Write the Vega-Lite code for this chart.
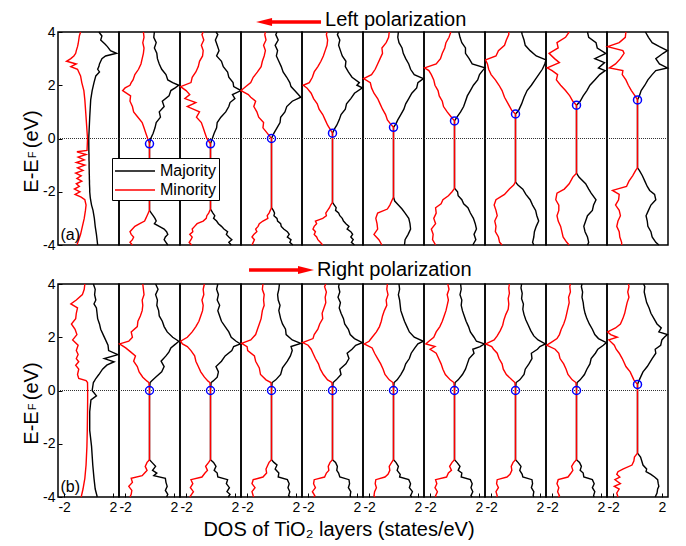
{
  "$schema": "https://vega.github.io/schema/vega-lite/v6.json",
  "padding": {"left": 21, "top": 9, "right": 5, "bottom": 3},
  "background": "white",
  "config": {
    "font": "Liberation Sans",
    "view": {"stroke": "black", "strokeWidth": 1.5},
    "axis": {"domain": false, "grid": false, "labelFont": "Liberation Sans", "labelFontSize": 14, "labelColor": "black", "tickColor": "black", "tickWidth": 1, "titleFont": "Liberation Sans", "titleFontWeight": "normal", "titleColor": "black", "titleFontSize": 20}
  },
  "data": {"values": [
      {"p":"a","l":1,"e":4,"M":0.85,"m":-0.65},{"p":"a","l":1,"e":3.85,"M":1.1,"m":-0.75},{"p":"a","l":1,"e":3.7,"M":1,"m":-0.8},{"p":"a","l":1,"e":3.55,"M":1.35,"m":-0.85},{"p":"a","l":1,"e":3.45,"M":1.55,"m":-0.9},{"p":"a","l":1,"e":3.3,"M":1.8,"m":-1},{"p":"a","l":1,"e":3.2,"M":2.3,"m":-1.05},{"p":"a","l":1,"e":3.1,"M":1.4,"m":-1.2},{"p":"a","l":1,"e":3,"M":1.1,"m":-1.45},{"p":"a","l":1,"e":2.9,"M":1,"m":-1.8},{"p":"a","l":1,"e":2.8,"M":0.9,"m":-1},{"p":"a","l":1,"e":2.7,"M":0.85,"m":-1.45},{"p":"a","l":1,"e":2.6,"M":0.75,"m":-0.9},{"p":"a","l":1,"e":2.5,"M":0.9,"m":-0.8},{"p":"a","l":1,"e":2.35,"M":0.6,"m":-0.65},{"p":"a","l":1,"e":2.1,"M":0.45,"m":-0.55},{"p":"a","l":1,"e":1.8,"M":0.3,"m":-0.38},{"p":"a","l":1,"e":1.45,"M":0.18,"m":-0.3},{"p":"a","l":1,"e":0.8,"M":0.1,"m":-0.2},{"p":"a","l":1,"e":0,"M":0.02,"m":-0.08},{"p":"a","l":1,"e":-0.45,"M":0.03,"m":-0.12},{"p":"a","l":1,"e":-0.5,"M":0.03,"m":-0.95},{"p":"a","l":1,"e":-0.6,"M":0.04,"m":-0.2},{"p":"a","l":1,"e":-0.7,"M":0.04,"m":-0.85},{"p":"a","l":1,"e":-0.8,"M":0.04,"m":-0.35},{"p":"a","l":1,"e":-0.9,"M":0.05,"m":-1},{"p":"a","l":1,"e":-1,"M":0.05,"m":-0.3},{"p":"a","l":1,"e":-1.1,"M":0.05,"m":-0.9},{"p":"a","l":1,"e":-1.2,"M":0.06,"m":-0.45},{"p":"a","l":1,"e":-1.3,"M":0.06,"m":-1.05},{"p":"a","l":1,"e":-1.4,"M":0.07,"m":-0.6},{"p":"a","l":1,"e":-1.5,"M":0.07,"m":-0.95},{"p":"a","l":1,"e":-1.6,"M":0.08,"m":-0.55},{"p":"a","l":1,"e":-1.7,"M":0.08,"m":-1},{"p":"a","l":1,"e":-1.8,"M":0.09,"m":-0.75},{"p":"a","l":1,"e":-1.9,"M":0.1,"m":-1.15},{"p":"a","l":1,"e":-2,"M":0.1,"m":-0.7},{"p":"a","l":1,"e":-2.1,"M":0.12,"m":-1.1},{"p":"a","l":1,"e":-2.2,"M":0.14,"m":-0.6},{"p":"a","l":1,"e":-2.3,"M":0.17,"m":-0.3},{"p":"a","l":1,"e":-2.5,"M":0.25,"m":-0.2},{"p":"a","l":1,"e":-2.7,"M":0.37,"m":-0.25},{"p":"a","l":1,"e":-3,"M":0.48,"m":-0.35},{"p":"a","l":1,"e":-3.3,"M":0.55,"m":-0.5},{"p":"a","l":1,"e":-3.6,"M":0.65,"m":-0.65},{"p":"a","l":1,"e":-3.8,"M":0.7,"m":-0.8},{"p":"a","l":1,"e":-4,"M":0.75,"m":-0.95},
      {"p":"a","l":2,"e":-0.2,"M":0,"m":0},{"p":"a","l":2,"e":0,"M":0.1,"m":-0.15},{"p":"a","l":2,"e":0.2,"M":0.3,"m":-0.3},{"p":"a","l":2,"e":0.4,"M":0.45,"m":-0.45},{"p":"a","l":2,"e":0.6,"M":0.55,"m":-0.6},{"p":"a","l":2,"e":0.8,"M":0.9,"m":-0.95},{"p":"a","l":2,"e":1,"M":0.8,"m":-1.3},{"p":"a","l":2,"e":1.2,"M":1.2,"m":-1.4},{"p":"a","l":2,"e":1.4,"M":1.05,"m":-1.6},{"p":"a","l":2,"e":1.6,"M":1.6,"m":-1.55},{"p":"a","l":2,"e":1.8,"M":1.75,"m":-2.2},{"p":"a","l":2,"e":1.9,"M":2.1,"m":-2},{"p":"a","l":2,"e":2,"M":2.4,"m":-1.6},{"p":"a","l":2,"e":2.1,"M":1.9,"m":-1.5},{"p":"a","l":2,"e":2.2,"M":1.5,"m":-1.35},{"p":"a","l":2,"e":2.4,"M":1.35,"m":-1.2},{"p":"a","l":2,"e":2.6,"M":1,"m":-0.9},{"p":"a","l":2,"e":2.8,"M":0.8,"m":-0.7},{"p":"a","l":2,"e":3,"M":0.65,"m":-0.6},{"p":"a","l":2,"e":3.2,"M":0.6,"m":-0.5},{"p":"a","l":2,"e":3.4,"M":0.4,"m":-0.45},{"p":"a","l":2,"e":3.6,"M":0.55,"m":-0.55},{"p":"a","l":2,"e":3.8,"M":0.35,"m":-0.45},{"p":"a","l":2,"e":4,"M":0.4,"m":-0.5},
      {"p":"a","l":2,"e":-2.7,"M":0,"m":0},{"p":"a","l":2,"e":-2.8,"M":0.15,"m":-0.1},{"p":"a","l":2,"e":-2.9,"M":0.3,"m":-0.2},{"p":"a","l":2,"e":-3,"M":0.45,"m":-0.3},{"p":"a","l":2,"e":-3.1,"M":0.55,"m":-0.4},{"p":"a","l":2,"e":-3.2,"M":0.4,"m":-0.8},{"p":"a","l":2,"e":-3.3,"M":0.8,"m":-1.2},{"p":"a","l":2,"e":-3.4,"M":1.2,"m":-1.4},{"p":"a","l":2,"e":-3.5,"M":1.4,"m":-1.6},{"p":"a","l":2,"e":-3.6,"M":1.5,"m":-1.5},{"p":"a","l":2,"e":-3.7,"M":1.3,"m":-1.3},{"p":"a","l":2,"e":-3.8,"M":1.2,"m":-1.4},{"p":"a","l":2,"e":-3.9,"M":1.35,"m":-1.6},{"p":"a","l":2,"e":-4,"M":1.5,"m":-1.4},
      {"p":"a","l":3,"e":-0.2,"M":0,"m":0},{"p":"a","l":3,"e":0,"M":0.15,"m":-0.3},{"p":"a","l":3,"e":0.2,"M":0.3,"m":-0.45},{"p":"a","l":3,"e":0.4,"M":0.5,"m":-0.6},{"p":"a","l":3,"e":0.6,"M":0.55,"m":-0.75},{"p":"a","l":3,"e":0.8,"M":0.85,"m":-1.15},{"p":"a","l":3,"e":1,"M":1.25,"m":-0.9},{"p":"a","l":3,"e":1.2,"M":1.5,"m":-1.9},{"p":"a","l":3,"e":1.35,"M":1.6,"m":-1.2},{"p":"a","l":3,"e":1.5,"M":2,"m":-2.1},{"p":"a","l":3,"e":1.65,"M":1.8,"m":-1.7},{"p":"a","l":3,"e":1.8,"M":2.5,"m":-2},{"p":"a","l":3,"e":1.95,"M":1.9,"m":-2.45},{"p":"a","l":3,"e":2.1,"M":1.85,"m":-1.6},{"p":"a","l":3,"e":2.3,"M":1.5,"m":-1.5},{"p":"a","l":3,"e":2.5,"M":1.4,"m":-1.2},{"p":"a","l":3,"e":2.7,"M":1.05,"m":-1},{"p":"a","l":3,"e":2.9,"M":0.9,"m":-0.9},{"p":"a","l":3,"e":3.1,"M":0.5,"m":-0.65},{"p":"a","l":3,"e":3.3,"M":0.7,"m":-0.6},{"p":"a","l":3,"e":3.5,"M":0.55,"m":-0.75},{"p":"a","l":3,"e":3.7,"M":0.4,"m":-0.55},{"p":"a","l":3,"e":3.9,"M":0.6,"m":-0.7},{"p":"a","l":3,"e":4,"M":0.45,"m":-0.6},
      {"p":"a","l":3,"e":-2.65,"M":0,"m":0},{"p":"a","l":3,"e":-2.8,"M":0.2,"m":-0.15},{"p":"a","l":3,"e":-2.9,"M":0.35,"m":-0.3},{"p":"a","l":3,"e":-3,"M":0.25,"m":-0.35},{"p":"a","l":3,"e":-3.1,"M":0.5,"m":-0.6},{"p":"a","l":3,"e":-3.2,"M":0.65,"m":-1.1},{"p":"a","l":3,"e":-3.3,"M":0.9,"m":-1.3},{"p":"a","l":3,"e":-3.4,"M":1.1,"m":-1.5},{"p":"a","l":3,"e":-3.5,"M":1.4,"m":-1.45},{"p":"a","l":3,"e":-3.6,"M":1.3,"m":-1.7},{"p":"a","l":3,"e":-3.7,"M":1.5,"m":-1.5},{"p":"a","l":3,"e":-3.8,"M":1.75,"m":-1.6},{"p":"a","l":3,"e":-3.9,"M":1.5,"m":-1.75},{"p":"a","l":3,"e":-4,"M":1.7,"m":-1.55},
      {"p":"a","l":4,"e":0,"M":0,"m":0},{"p":"a","l":4,"e":0.2,"M":0.2,"m":-0.35},{"p":"a","l":4,"e":0.4,"M":0.45,"m":-0.7},{"p":"a","l":4,"e":0.6,"M":0.7,"m":-0.65},{"p":"a","l":4,"e":0.8,"M":0.75,"m":-1.05},{"p":"a","l":4,"e":1,"M":1.1,"m":-1.2},{"p":"a","l":4,"e":1.2,"M":1.25,"m":-1.45},{"p":"a","l":4,"e":1.4,"M":1.7,"m":-1.3},{"p":"a","l":4,"e":1.55,"M":2.4,"m":-1.7},{"p":"a","l":4,"e":1.65,"M":2.2,"m":-1.9},{"p":"a","l":4,"e":1.8,"M":1.9,"m":-2.5},{"p":"a","l":4,"e":1.95,"M":1.6,"m":-2.1},{"p":"a","l":4,"e":2.1,"M":1.5,"m":-1.7},{"p":"a","l":4,"e":2.3,"M":1.25,"m":-1.5},{"p":"a","l":4,"e":2.5,"M":0.95,"m":-1.15},{"p":"a","l":4,"e":2.7,"M":0.8,"m":-0.85},{"p":"a","l":4,"e":2.9,"M":0.6,"m":-0.75},{"p":"a","l":4,"e":3.1,"M":0.4,"m":-0.6},{"p":"a","l":4,"e":3.3,"M":0.5,"m":-0.5},{"p":"a","l":4,"e":3.5,"M":0.3,"m":-0.65},{"p":"a","l":4,"e":3.7,"M":0.55,"m":-0.45},{"p":"a","l":4,"e":3.9,"M":0.35,"m":-0.55},{"p":"a","l":4,"e":4,"M":0.45,"m":-0.5},
      {"p":"a","l":4,"e":-2.6,"M":0,"m":0},{"p":"a","l":4,"e":-2.7,"M":0.15,"m":-0.1},{"p":"a","l":4,"e":-2.8,"M":0.25,"m":-0.2},{"p":"a","l":4,"e":-2.9,"M":0.2,"m":-0.35},{"p":"a","l":4,"e":-3,"M":0.45,"m":-0.3},{"p":"a","l":4,"e":-3.1,"M":0.5,"m":-0.7},{"p":"a","l":4,"e":-3.2,"M":0.75,"m":-1},{"p":"a","l":4,"e":-3.3,"M":0.8,"m":-1.1},{"p":"a","l":4,"e":-3.4,"M":1,"m":-1.3},{"p":"a","l":4,"e":-3.5,"M":1.3,"m":-1.2},{"p":"a","l":4,"e":-3.6,"M":1.45,"m":-1.45},{"p":"a","l":4,"e":-3.7,"M":1.3,"m":-1.6},{"p":"a","l":4,"e":-3.8,"M":1.6,"m":-1.4},{"p":"a","l":4,"e":-3.9,"M":1.5,"m":-1.5},{"p":"a","l":4,"e":-4,"M":1.75,"m":-1.6},
      {"p":"a","l":5,"e":0.2,"M":0,"m":0},{"p":"a","l":5,"e":0.35,"M":0.15,"m":-0.2},{"p":"a","l":5,"e":0.5,"M":0.35,"m":-0.4},{"p":"a","l":5,"e":0.7,"M":0.55,"m":-0.6},{"p":"a","l":5,"e":0.9,"M":0.7,"m":-0.8},{"p":"a","l":5,"e":1.1,"M":1.05,"m":-1.1},{"p":"a","l":5,"e":1.3,"M":1.15,"m":-1.25},{"p":"a","l":5,"e":1.5,"M":1.5,"m":-1.55},{"p":"a","l":5,"e":1.7,"M":1.8,"m":-1.75},{"p":"a","l":5,"e":1.9,"M":2.45,"m":-2.1},{"p":"a","l":5,"e":2,"M":2,"m":-2.4},{"p":"a","l":5,"e":2.1,"M":2.2,"m":-1.9},{"p":"a","l":5,"e":2.3,"M":1.6,"m":-1.65},{"p":"a","l":5,"e":2.5,"M":1.3,"m":-1.5},{"p":"a","l":5,"e":2.7,"M":1.05,"m":-1.2},{"p":"a","l":5,"e":2.9,"M":1.1,"m":-0.95},{"p":"a","l":5,"e":3.1,"M":0.8,"m":-0.75},{"p":"a","l":5,"e":3.3,"M":0.65,"m":-0.6},{"p":"a","l":5,"e":3.5,"M":0.5,"m":-0.45},{"p":"a","l":5,"e":3.7,"M":0.6,"m":-0.4},{"p":"a","l":5,"e":3.9,"M":0.4,"m":-0.5},{"p":"a","l":5,"e":4,"M":0.5,"m":-0.45},
      {"p":"a","l":5,"e":-2.4,"M":0,"m":0},{"p":"a","l":5,"e":-2.5,"M":0.15,"m":-0.15},{"p":"a","l":5,"e":-2.6,"M":0.3,"m":-0.25},{"p":"a","l":5,"e":-2.7,"M":0.25,"m":-0.4},{"p":"a","l":5,"e":-2.8,"M":0.5,"m":-0.55},{"p":"a","l":5,"e":-2.9,"M":0.6,"m":-0.5},{"p":"a","l":5,"e":-3,"M":0.8,"m":-0.8},{"p":"a","l":5,"e":-3.1,"M":0.9,"m":-1.4},{"p":"a","l":5,"e":-3.2,"M":1.1,"m":-1.3},{"p":"a","l":5,"e":-3.3,"M":1.35,"m":-1.5},{"p":"a","l":5,"e":-3.4,"M":1.2,"m":-1.6},{"p":"a","l":5,"e":-3.5,"M":1.5,"m":-1.4},{"p":"a","l":5,"e":-3.6,"M":1.65,"m":-1.5},{"p":"a","l":5,"e":-3.7,"M":1.5,"m":-1.3},{"p":"a","l":5,"e":-3.8,"M":1.7,"m":-1.2},{"p":"a","l":5,"e":-3.9,"M":1.55,"m":-1},{"p":"a","l":5,"e":-4,"M":1.8,"m":-0.8},
      {"p":"a","l":6,"e":0.42,"M":0,"m":0},{"p":"a","l":6,"e":0.55,"M":0.2,"m":-0.25},{"p":"a","l":6,"e":0.7,"M":0.35,"m":-0.5},{"p":"a","l":6,"e":0.9,"M":0.6,"m":-0.65},{"p":"a","l":6,"e":1.1,"M":0.85,"m":-0.9},{"p":"a","l":6,"e":1.3,"M":1,"m":-1.1},{"p":"a","l":6,"e":1.5,"M":1.25,"m":-1.3},{"p":"a","l":6,"e":1.7,"M":1.5,"m":-1.6},{"p":"a","l":6,"e":1.9,"M":1.9,"m":-1.8},{"p":"a","l":6,"e":2.1,"M":2,"m":-1.9},{"p":"a","l":6,"e":2.25,"M":2.45,"m":-2.45},{"p":"a","l":6,"e":2.4,"M":1.7,"m":-1.8},{"p":"a","l":6,"e":2.6,"M":1.4,"m":-1.5},{"p":"a","l":6,"e":2.8,"M":1.25,"m":-1.3},{"p":"a","l":6,"e":3,"M":1,"m":-1.1},{"p":"a","l":6,"e":3.2,"M":0.8,"m":-0.9},{"p":"a","l":6,"e":3.4,"M":0.7,"m":-0.95},{"p":"a","l":6,"e":3.6,"M":0.45,"m":-0.6},{"p":"a","l":6,"e":3.8,"M":0.35,"m":-0.4},{"p":"a","l":6,"e":4,"M":0.4,"m":-0.35},
      {"p":"a","l":6,"e":-2.2,"M":0,"m":0},{"p":"a","l":6,"e":-2.35,"M":0.1,"m":-0.15},{"p":"a","l":6,"e":-2.5,"M":0.4,"m":-0.3},{"p":"a","l":6,"e":-2.65,"M":0.7,"m":-0.5},{"p":"a","l":6,"e":-2.8,"M":0.95,"m":-1.3},{"p":"a","l":6,"e":-3,"M":1.25,"m":-1.45},{"p":"a","l":6,"e":-3.2,"M":1.35,"m":-1.35},{"p":"a","l":6,"e":-3.4,"M":1.4,"m":-1.3},{"p":"a","l":6,"e":-3.6,"M":1.2,"m":-1.6},{"p":"a","l":6,"e":-3.8,"M":0.95,"m":-1.2},{"p":"a","l":6,"e":-4,"M":0.9,"m":-0.95},
      {"p":"a","l":7,"e":0.66,"M":0,"m":0},{"p":"a","l":7,"e":0.8,"M":0.2,"m":-0.25},{"p":"a","l":7,"e":1,"M":0.5,"m":-0.6},{"p":"a","l":7,"e":1.2,"M":0.75,"m":-0.9},{"p":"a","l":7,"e":1.4,"M":0.9,"m":-1},{"p":"a","l":7,"e":1.6,"M":1.05,"m":-1.25},{"p":"a","l":7,"e":1.8,"M":1.3,"m":-1.35},{"p":"a","l":7,"e":2,"M":1.55,"m":-1.6},{"p":"a","l":7,"e":2.2,"M":1.9,"m":-1.7},{"p":"a","l":7,"e":2.4,"M":2.05,"m":-1.9},{"p":"a","l":7,"e":2.55,"M":2.3,"m":-2.1},{"p":"a","l":7,"e":2.65,"M":2.5,"m":-2.45},{"p":"a","l":7,"e":2.8,"M":1.45,"m":-1.5},{"p":"a","l":7,"e":3,"M":1.2,"m":-1.15},{"p":"a","l":7,"e":3.2,"M":0.9,"m":-1},{"p":"a","l":7,"e":3.4,"M":0.9,"m":-0.8},{"p":"a","l":7,"e":3.6,"M":0.6,"m":-0.7},{"p":"a","l":7,"e":3.8,"M":0.45,"m":-0.45},{"p":"a","l":7,"e":4,"M":0.35,"m":-0.3},
      {"p":"a","l":7,"e":-1.87,"M":0,"m":0},{"p":"a","l":7,"e":-2,"M":0.25,"m":-0.2},{"p":"a","l":7,"e":-2.15,"M":0.3,"m":-0.5},{"p":"a","l":7,"e":-2.3,"M":0.6,"m":-0.95},{"p":"a","l":7,"e":-2.45,"M":0.75,"m":-1.1},{"p":"a","l":7,"e":-2.6,"M":1.1,"m":-1.55},{"p":"a","l":7,"e":-2.8,"M":1.3,"m":-1.5},{"p":"a","l":7,"e":-3,"M":1.55,"m":-1.7},{"p":"a","l":7,"e":-3.2,"M":1.7,"m":-1.55},{"p":"a","l":7,"e":-3.4,"M":1.8,"m":-1.9},{"p":"a","l":7,"e":-3.6,"M":1.6,"m":-1.75},{"p":"a","l":7,"e":-3.8,"M":1.75,"m":-1.8},{"p":"a","l":7,"e":-4,"M":1.5,"m":-1.55},
      {"p":"a","l":8,"e":0.92,"M":0,"m":0},{"p":"a","l":8,"e":1.05,"M":0.25,"m":-0.3},{"p":"a","l":8,"e":1.3,"M":0.5,"m":-0.6},{"p":"a","l":8,"e":1.55,"M":0.7,"m":-0.9},{"p":"a","l":8,"e":1.8,"M":0.95,"m":-1.1},{"p":"a","l":8,"e":2,"M":1.3,"m":-1.35},{"p":"a","l":8,"e":2.2,"M":1.6,"m":-1.65},{"p":"a","l":8,"e":2.4,"M":1.9,"m":-2},{"p":"a","l":8,"e":2.6,"M":2.2,"m":-2.2},{"p":"a","l":8,"e":2.8,"M":2.4,"m":-2.3},{"p":"a","l":8,"e":2.95,"M":2.5,"m":-2.45},{"p":"a","l":8,"e":3.1,"M":1.7,"m":-1.6},{"p":"a","l":8,"e":3.3,"M":1.2,"m":-1.4},{"p":"a","l":8,"e":3.5,"M":0.8,"m":-0.9},{"p":"a","l":8,"e":3.7,"M":0.7,"m":-0.75},{"p":"a","l":8,"e":3.9,"M":0.55,"m":-0.55},{"p":"a","l":8,"e":4,"M":0.5,"m":-0.55},
      {"p":"a","l":8,"e":-1.63,"M":0,"m":0},{"p":"a","l":8,"e":-1.75,"M":0.2,"m":-0.15},{"p":"a","l":8,"e":-1.9,"M":0.6,"m":-0.5},{"p":"a","l":8,"e":-2.1,"M":0.85,"m":-0.9},{"p":"a","l":8,"e":-2.3,"M":1.2,"m":-1.6},{"p":"a","l":8,"e":-2.5,"M":1.4,"m":-1.75},{"p":"a","l":8,"e":-2.7,"M":1.65,"m":-1.6},{"p":"a","l":8,"e":-2.9,"M":1.75,"m":-1.5},{"p":"a","l":8,"e":-3.1,"M":1.9,"m":-1.7},{"p":"a","l":8,"e":-3.3,"M":1.7,"m":-1.6},{"p":"a","l":8,"e":-3.5,"M":1.55,"m":-1.65},{"p":"a","l":8,"e":-3.7,"M":1.5,"m":-1.4},{"p":"a","l":8,"e":-3.9,"M":1.4,"m":-1.3},{"p":"a","l":8,"e":-4,"M":1.5,"m":-1.1},
      {"p":"a","l":9,"e":1.25,"M":0,"m":0},{"p":"a","l":9,"e":1.4,"M":0.3,"m":-0.3},{"p":"a","l":9,"e":1.6,"M":0.55,"m":-0.55},{"p":"a","l":9,"e":1.8,"M":0.85,"m":-0.9},{"p":"a","l":9,"e":2,"M":1.1,"m":-1.3},{"p":"a","l":9,"e":2.2,"M":1.5,"m":-1.65},{"p":"a","l":9,"e":2.4,"M":1.9,"m":-1.55},{"p":"a","l":9,"e":2.55,"M":2.35,"m":-2},{"p":"a","l":9,"e":2.65,"M":1.8,"m":-2.4},{"p":"a","l":9,"e":2.85,"M":2.3,"m":-1.4},{"p":"a","l":9,"e":3,"M":1.5,"m":-1.8},{"p":"a","l":9,"e":3.2,"M":2.4,"m":-2.25},{"p":"a","l":9,"e":3.4,"M":1.7,"m":-1.5},{"p":"a","l":9,"e":3.6,"M":1.6,"m":-1.6},{"p":"a","l":9,"e":3.8,"M":1,"m":-0.9},{"p":"a","l":9,"e":4,"M":0.9,"m":-0.6},
      {"p":"a","l":9,"e":-1.3,"M":0,"m":0},{"p":"a","l":9,"e":-1.45,"M":0.2,"m":-0.3},{"p":"a","l":9,"e":-1.7,"M":0.75,"m":-0.6},{"p":"a","l":9,"e":-1.9,"M":1,"m":-1},{"p":"a","l":9,"e":-2.05,"M":1.2,"m":-1.6},{"p":"a","l":9,"e":-2.3,"M":1.6,"m":-1.7},{"p":"a","l":9,"e":-2.5,"M":1.4,"m":-1.45},{"p":"a","l":9,"e":-2.7,"M":1.3,"m":-1.45},{"p":"a","l":9,"e":-2.9,"M":0.9,"m":-1.6},{"p":"a","l":9,"e":-3.1,"M":0.75,"m":-1.5},{"p":"a","l":9,"e":-3.3,"M":0.6,"m":-1.3},{"p":"a","l":9,"e":-3.5,"M":0.7,"m":-1.2},{"p":"a","l":9,"e":-3.7,"M":0.9,"m":-1.1},{"p":"a","l":9,"e":-3.9,"M":1,"m":-0.8},{"p":"a","l":9,"e":-4,"M":0.9,"m":-0.6},
      {"p":"a","l":10,"e":1.45,"M":0,"m":0},{"p":"a","l":10,"e":1.6,"M":0.15,"m":-0.2},{"p":"a","l":10,"e":1.8,"M":0.3,"m":-0.5},{"p":"a","l":10,"e":2,"M":0.6,"m":-0.75},{"p":"a","l":10,"e":2.2,"M":0.85,"m":-0.95},{"p":"a","l":10,"e":2.4,"M":1.2,"m":-1.25},{"p":"a","l":10,"e":2.55,"M":1.5,"m":-1.2},{"p":"a","l":10,"e":2.65,"M":2.45,"m":-2.3},{"p":"a","l":10,"e":2.8,"M":1.8,"m":-1.8},{"p":"a","l":10,"e":3,"M":1.5,"m":-1.4},{"p":"a","l":10,"e":3.2,"M":2.1,"m":-1.1},{"p":"a","l":10,"e":3.3,"M":2.45,"m":-1.2},{"p":"a","l":10,"e":3.45,"M":1.8,"m":-2.45},{"p":"a","l":10,"e":3.6,"M":1.2,"m":-1.5},{"p":"a","l":10,"e":3.8,"M":0.9,"m":-1},{"p":"a","l":10,"e":4,"M":0.65,"m":-0.95},
      {"p":"a","l":10,"e":-1.1,"M":0,"m":0},{"p":"a","l":10,"e":-1.2,"M":0.15,"m":-0.15},{"p":"a","l":10,"e":-1.4,"M":0.4,"m":-0.4},{"p":"a","l":10,"e":-1.6,"M":0.6,"m":-0.7},{"p":"a","l":10,"e":-1.8,"M":0.8,"m":-0.9},{"p":"a","l":10,"e":-1.95,"M":1,"m":-2.05},{"p":"a","l":10,"e":-2.1,"M":1.4,"m":-1.5},{"p":"a","l":10,"e":-2.3,"M":1.5,"m":-1.55},{"p":"a","l":10,"e":-2.5,"M":1.1,"m":-1.8},{"p":"a","l":10,"e":-2.7,"M":0.9,"m":-1.5},{"p":"a","l":10,"e":-2.9,"M":0.7,"m":-1.4},{"p":"a","l":10,"e":-3.1,"M":0.8,"m":-1.6},{"p":"a","l":10,"e":-3.3,"M":0.85,"m":-1.7},{"p":"a","l":10,"e":-3.5,"M":1.1,"m":-1.5},{"p":"a","l":10,"e":-3.7,"M":1.2,"m":-1.45},{"p":"a","l":10,"e":-3.9,"M":1.5,"m":-1.3},{"p":"a","l":10,"e":-4,"M":1.75,"m":-1.3},
      {"p":"a","l":1,"t":"(a)"},{"p":"a","l":2,"c":-0.2},{"p":"a","l":3,"c":-0.2},{"p":"a","l":4,"c":0},{"p":"a","l":5,"c":0.2},{"p":"a","l":6,"c":0.42},{"p":"a","l":7,"c":0.66},{"p":"a","l":8,"c":0.92},{"p":"a","l":9,"c":1.25},{"p":"a","l":10,"c":1.45},
      {"p":"a","l":5,"h":"Left polarization"},
      {"p":"b","l":1,"e":4,"M":0.4,"m":-0.3},{"p":"b","l":1,"e":3.8,"M":0.55,"m":-0.35},{"p":"b","l":1,"e":3.6,"M":0.5,"m":-0.5},{"p":"b","l":1,"e":3.4,"M":0.6,"m":-1},{"p":"b","l":1,"e":3.25,"M":0.45,"m":-1.45},{"p":"b","l":1,"e":3.1,"M":0.65,"m":-0.9},{"p":"b","l":1,"e":2.9,"M":0.7,"m":-1},{"p":"b","l":1,"e":2.7,"M":0.75,"m":-1.05},{"p":"b","l":1,"e":2.5,"M":0.9,"m":-1.4},{"p":"b","l":1,"e":2.3,"M":1,"m":-1.1},{"p":"b","l":1,"e":2.1,"M":1.2,"m":-0.95},{"p":"b","l":1,"e":1.9,"M":1.4,"m":-1.3},{"p":"b","l":1,"e":1.7,"M":1.6,"m":-0.85},{"p":"b","l":1,"e":1.5,"M":1.65,"m":-1},{"p":"b","l":1,"e":1.35,"M":2.4,"m":-0.85},{"p":"b","l":1,"e":1.2,"M":1.3,"m":-1},{"p":"b","l":1,"e":1.08,"M":2.1,"m":-0.8},{"p":"b","l":1,"e":0.95,"M":1.5,"m":-1.05},{"p":"b","l":1,"e":0.8,"M":1.15,"m":-0.8},{"p":"b","l":1,"e":0.6,"M":0.85,"m":-0.9},{"p":"b","l":1,"e":0.45,"M":0.6,"m":-0.8},{"p":"b","l":1,"e":0.37,"M":0.5,"m":-0.2},{"p":"b","l":1,"e":0.3,"M":0.4,"m":-0.08},{"p":"b","l":1,"e":0,"M":0.3,"m":-0.07},{"p":"b","l":1,"e":-0.2,"M":0.65,"m":-0.07},{"p":"b","l":1,"e":-0.35,"M":0.2,"m":-0.07},{"p":"b","l":1,"e":-0.8,"M":0.1,"m":-0.08},{"p":"b","l":1,"e":-1.5,"M":0.1,"m":-0.1},{"p":"b","l":1,"e":-2.1,"M":0.25,"m":-0.13},{"p":"b","l":1,"e":-2.8,"M":0.35,"m":-0.2},{"p":"b","l":1,"e":-3.3,"M":0.45,"m":-0.3},{"p":"b","l":1,"e":-3.7,"M":0.55,"m":-0.45},{"p":"b","l":1,"e":-4,"M":0.72,"m":-0.6},
      {"p":"b","l":2,"e":0,"M":0,"m":0},{"p":"b","l":2,"e":0.3,"M":0.05,"m":-0.05},{"p":"b","l":2,"e":0.35,"M":0.15,"m":-0.2},{"p":"b","l":2,"e":0.5,"M":0.5,"m":-0.55},{"p":"b","l":2,"e":0.7,"M":1,"m":-0.85},{"p":"b","l":2,"e":0.9,"M":1.2,"m":-1},{"p":"b","l":2,"e":1.1,"M":0.95,"m":-1.3},{"p":"b","l":2,"e":1.3,"M":1.35,"m":-1.15},{"p":"b","l":2,"e":1.45,"M":1.6,"m":-1.55},{"p":"b","l":2,"e":1.6,"M":1.75,"m":-1.95},{"p":"b","l":2,"e":1.75,"M":2.15,"m":-2.45},{"p":"b","l":2,"e":1.85,"M":2.4,"m":-1.7},{"p":"b","l":2,"e":2,"M":1.9,"m":-1.4},{"p":"b","l":2,"e":2.2,"M":1.45,"m":-1.5},{"p":"b","l":2,"e":2.4,"M":1.2,"m":-1},{"p":"b","l":2,"e":2.6,"M":1.05,"m":-0.95},{"p":"b","l":2,"e":2.8,"M":0.8,"m":-0.75},{"p":"b","l":2,"e":3,"M":0.75,"m":-0.6},{"p":"b","l":2,"e":3.2,"M":0.6,"m":-0.55},{"p":"b","l":2,"e":3.4,"M":0.65,"m":-0.6},{"p":"b","l":2,"e":3.6,"M":0.5,"m":-0.45},{"p":"b","l":2,"e":3.8,"M":0.7,"m":-0.5},{"p":"b","l":2,"e":4,"M":0.5,"m":-0.55},
      {"p":"b","l":2,"e":-2.6,"M":0,"m":0},{"p":"b","l":2,"e":-2.7,"M":0.2,"m":-0.2},{"p":"b","l":2,"e":-2.85,"M":0.5,"m":-0.35},{"p":"b","l":2,"e":-3,"M":0.25,"m":-0.2},{"p":"b","l":2,"e":-3.1,"M":0.6,"m":-0.4},{"p":"b","l":2,"e":-3.2,"M":0.35,"m":-0.6},{"p":"b","l":2,"e":-3.3,"M":1.3,"m":-1.5},{"p":"b","l":2,"e":-3.45,"M":1.35,"m":-1.4},{"p":"b","l":2,"e":-3.6,"M":1.45,"m":-1.7},{"p":"b","l":2,"e":-3.75,"M":1.3,"m":-1.45},{"p":"b","l":2,"e":-3.9,"M":1.5,"m":-1.5},{"p":"b","l":2,"e":-4,"M":1.4,"m":-1.6},
      {"p":"b","l":3,"e":0,"M":0,"m":0},{"p":"b","l":3,"e":0.3,"M":0.05,"m":-0.05},{"p":"b","l":3,"e":0.35,"M":0.2,"m":-0.2},{"p":"b","l":3,"e":0.5,"M":0.55,"m":-0.5},{"p":"b","l":3,"e":0.7,"M":0.65,"m":-0.8},{"p":"b","l":3,"e":0.9,"M":0.45,"m":-1},{"p":"b","l":3,"e":1.1,"M":0.9,"m":-1.2},{"p":"b","l":3,"e":1.3,"M":1.2,"m":-1.3},{"p":"b","l":3,"e":1.5,"M":1.75,"m":-1.6},{"p":"b","l":3,"e":1.65,"M":1.9,"m":-1.9},{"p":"b","l":3,"e":1.75,"M":2.45,"m":-2.3},{"p":"b","l":3,"e":1.85,"M":2.1,"m":-2.45},{"p":"b","l":3,"e":2,"M":1.7,"m":-1.9},{"p":"b","l":3,"e":2.2,"M":1.5,"m":-1.5},{"p":"b","l":3,"e":2.4,"M":1.2,"m":-1.2},{"p":"b","l":3,"e":2.6,"M":0.9,"m":-0.95},{"p":"b","l":3,"e":2.8,"M":0.75,"m":-0.8},{"p":"b","l":3,"e":3,"M":0.6,"m":-0.65},{"p":"b","l":3,"e":3.2,"M":0.75,"m":-0.6},{"p":"b","l":3,"e":3.4,"M":0.55,"m":-0.7},{"p":"b","l":3,"e":3.6,"M":0.65,"m":-0.55},{"p":"b","l":3,"e":3.8,"M":0.5,"m":-0.6},{"p":"b","l":3,"e":4,"M":0.6,"m":-0.5},
      {"p":"b","l":3,"e":-2.6,"M":0,"m":0},{"p":"b","l":3,"e":-2.7,"M":0.25,"m":-0.15},{"p":"b","l":3,"e":-2.85,"M":0.45,"m":-0.4},{"p":"b","l":3,"e":-3,"M":0.3,"m":-0.25},{"p":"b","l":3,"e":-3.1,"M":0.55,"m":-0.45},{"p":"b","l":3,"e":-3.25,"M":0.6,"m":-0.7},{"p":"b","l":3,"e":-3.35,"M":1.4,"m":-1.6},{"p":"b","l":3,"e":-3.5,"M":1.3,"m":-1.45},{"p":"b","l":3,"e":-3.65,"M":1.55,"m":-1.65},{"p":"b","l":3,"e":-3.8,"M":1.35,"m":-1.4},{"p":"b","l":3,"e":-3.9,"M":1.6,"m":-1.55},{"p":"b","l":3,"e":-4,"M":1.45,"m":-1.7},
      {"p":"b","l":4,"e":0,"M":0,"m":0},{"p":"b","l":4,"e":0.3,"M":0.05,"m":-0.05},{"p":"b","l":4,"e":0.4,"M":0.35,"m":-0.45},{"p":"b","l":4,"e":0.6,"M":0.75,"m":-0.9},{"p":"b","l":4,"e":0.85,"M":0.9,"m":-1},{"p":"b","l":4,"e":1.1,"M":1.3,"m":-1.3},{"p":"b","l":4,"e":1.3,"M":1.55,"m":-1.4},{"p":"b","l":4,"e":1.5,"M":1.7,"m":-1.95},{"p":"b","l":4,"e":1.65,"M":1.6,"m":-2},{"p":"b","l":4,"e":1.77,"M":2.4,"m":-2.45},{"p":"b","l":4,"e":1.9,"M":1.7,"m":-1.7},{"p":"b","l":4,"e":2.1,"M":1.2,"m":-1.3},{"p":"b","l":4,"e":2.3,"M":1.15,"m":-1.15},{"p":"b","l":4,"e":2.5,"M":0.9,"m":-1},{"p":"b","l":4,"e":2.7,"M":0.75,"m":-0.85},{"p":"b","l":4,"e":3,"M":0.6,"m":-0.75},{"p":"b","l":4,"e":3.2,"M":0.7,"m":-0.6},{"p":"b","l":4,"e":3.4,"M":0.55,"m":-0.65},{"p":"b","l":4,"e":3.6,"M":0.5,"m":-0.6},{"p":"b","l":4,"e":3.8,"M":0.6,"m":-0.75},{"p":"b","l":4,"e":4,"M":0.65,"m":-0.7},
      {"p":"b","l":4,"e":-2.6,"M":0,"m":0},{"p":"b","l":4,"e":-2.7,"M":0.2,"m":-0.2},{"p":"b","l":4,"e":-2.8,"M":0.45,"m":-0.3},{"p":"b","l":4,"e":-2.95,"M":0.3,"m":-0.45},{"p":"b","l":4,"e":-3.1,"M":0.6,"m":-0.4},{"p":"b","l":4,"e":-3.25,"M":0.55,"m":-0.7},{"p":"b","l":4,"e":-3.35,"M":1.3,"m":-1.5},{"p":"b","l":4,"e":-3.5,"M":1.45,"m":-1.6},{"p":"b","l":4,"e":-3.65,"M":1.35,"m":-1.35},{"p":"b","l":4,"e":-3.8,"M":1.5,"m":-1.6},{"p":"b","l":4,"e":-3.95,"M":1.4,"m":-1.5},{"p":"b","l":4,"e":-4,"M":1.55,"m":-1.45},
      {"p":"b","l":5,"e":0,"M":0,"m":0},{"p":"b","l":5,"e":0.3,"M":0.05,"m":-0.05},{"p":"b","l":5,"e":0.4,"M":0.3,"m":-0.4},{"p":"b","l":5,"e":0.6,"M":0.7,"m":-0.75},{"p":"b","l":5,"e":0.8,"M":0.6,"m":-1},{"p":"b","l":5,"e":1,"M":1.1,"m":-1.15},{"p":"b","l":5,"e":1.2,"M":1.35,"m":-1.4},{"p":"b","l":5,"e":1.4,"M":1.2,"m":-1.6},{"p":"b","l":5,"e":1.55,"M":1.6,"m":-1.75},{"p":"b","l":5,"e":1.7,"M":1.9,"m":-2},{"p":"b","l":5,"e":1.8,"M":2.45,"m":-2.45},{"p":"b","l":5,"e":1.95,"M":1.8,"m":-1.6},{"p":"b","l":5,"e":2.1,"M":1.45,"m":-1.5},{"p":"b","l":5,"e":2.3,"M":1.3,"m":-1.2},{"p":"b","l":5,"e":2.5,"M":1,"m":-1.05},{"p":"b","l":5,"e":2.7,"M":0.9,"m":-0.8},{"p":"b","l":5,"e":2.9,"M":0.7,"m":-0.85},{"p":"b","l":5,"e":3.1,"M":0.55,"m":-0.7},{"p":"b","l":5,"e":3.3,"M":0.65,"m":-0.55},{"p":"b","l":5,"e":3.5,"M":0.45,"m":-0.6},{"p":"b","l":5,"e":3.7,"M":0.6,"m":-0.5},{"p":"b","l":5,"e":3.9,"M":0.5,"m":-0.65},{"p":"b","l":5,"e":4,"M":0.55,"m":-0.55},
      {"p":"b","l":5,"e":-2.6,"M":0,"m":0},{"p":"b","l":5,"e":-2.7,"M":0.25,"m":-0.2},{"p":"b","l":5,"e":-2.85,"M":0.4,"m":-0.35},{"p":"b","l":5,"e":-3,"M":0.35,"m":-0.3},{"p":"b","l":5,"e":-3.1,"M":0.5,"m":-0.5},{"p":"b","l":5,"e":-3.25,"M":0.6,"m":-0.65},{"p":"b","l":5,"e":-3.35,"M":1.35,"m":-1.5},{"p":"b","l":5,"e":-3.5,"M":1.4,"m":-1.55},{"p":"b","l":5,"e":-3.65,"M":1.3,"m":-1.4},{"p":"b","l":5,"e":-3.8,"M":1.5,"m":-1.65},{"p":"b","l":5,"e":-3.95,"M":1.45,"m":-1.45},{"p":"b","l":5,"e":-4,"M":1.5,"m":-1.55},
      {"p":"b","l":6,"e":0,"M":0,"m":0},{"p":"b","l":6,"e":0.3,"M":0.05,"m":-0.05},{"p":"b","l":6,"e":0.4,"M":0.3,"m":-0.35},{"p":"b","l":6,"e":0.6,"M":0.6,"m":-0.7},{"p":"b","l":6,"e":0.8,"M":0.85,"m":-0.85},{"p":"b","l":6,"e":1,"M":1,"m":-1.05},{"p":"b","l":6,"e":1.2,"M":1.3,"m":-1.3},{"p":"b","l":6,"e":1.4,"M":1.45,"m":-1.55},{"p":"b","l":6,"e":1.6,"M":1.75,"m":-1.75},{"p":"b","l":6,"e":1.75,"M":2,"m":-2.4},{"p":"b","l":6,"e":1.85,"M":2.45,"m":-2},{"p":"b","l":6,"e":2,"M":1.7,"m":-1.75},{"p":"b","l":6,"e":2.2,"M":1.3,"m":-1.4},{"p":"b","l":6,"e":2.4,"M":1.1,"m":-1.15},{"p":"b","l":6,"e":2.6,"M":0.9,"m":-1},{"p":"b","l":6,"e":2.8,"M":0.75,"m":-0.9},{"p":"b","l":6,"e":3,"M":0.6,"m":-0.75},{"p":"b","l":6,"e":3.2,"M":0.55,"m":-0.55},{"p":"b","l":6,"e":3.4,"M":0.5,"m":-0.6},{"p":"b","l":6,"e":3.6,"M":0.4,"m":-0.45},{"p":"b","l":6,"e":3.8,"M":0.5,"m":-0.55},{"p":"b","l":6,"e":4,"M":0.45,"m":-0.5},
      {"p":"b","l":6,"e":-2.6,"M":0,"m":0},{"p":"b","l":6,"e":-2.7,"M":0.2,"m":-0.15},{"p":"b","l":6,"e":-2.85,"M":0.4,"m":-0.35},{"p":"b","l":6,"e":-3,"M":0.3,"m":-0.3},{"p":"b","l":6,"e":-3.15,"M":0.55,"m":-0.45},{"p":"b","l":6,"e":-3.25,"M":0.5,"m":-0.7},{"p":"b","l":6,"e":-3.35,"M":1.25,"m":-1.45},{"p":"b","l":6,"e":-3.5,"M":1.4,"m":-1.5},{"p":"b","l":6,"e":-3.65,"M":1.3,"m":-1.4},{"p":"b","l":6,"e":-3.8,"M":1.55,"m":-1.55},{"p":"b","l":6,"e":-3.95,"M":1.4,"m":-1.6},{"p":"b","l":6,"e":-4,"M":1.5,"m":-1.5},
      {"p":"b","l":7,"e":0,"M":0,"m":0},{"p":"b","l":7,"e":0.3,"M":0.05,"m":-0.05},{"p":"b","l":7,"e":0.4,"M":0.3,"m":-0.35},{"p":"b","l":7,"e":0.6,"M":0.65,"m":-0.75},{"p":"b","l":7,"e":0.8,"M":0.9,"m":-0.95},{"p":"b","l":7,"e":1,"M":1.05,"m":-1.1},{"p":"b","l":7,"e":1.2,"M":1.2,"m":-1.3},{"p":"b","l":7,"e":1.4,"M":1.6,"m":-1.5},{"p":"b","l":7,"e":1.55,"M":1.5,"m":-2},{"p":"b","l":7,"e":1.65,"M":2.1,"m":-1.6},{"p":"b","l":7,"e":1.75,"M":2.45,"m":-2.35},{"p":"b","l":7,"e":1.85,"M":1.8,"m":-2.1},{"p":"b","l":7,"e":2,"M":1.6,"m":-1.7},{"p":"b","l":7,"e":2.2,"M":1.3,"m":-1.5},{"p":"b","l":7,"e":2.4,"M":1.15,"m":-1.2},{"p":"b","l":7,"e":2.6,"M":0.95,"m":-1},{"p":"b","l":7,"e":2.8,"M":0.8,"m":-0.85},{"p":"b","l":7,"e":3,"M":0.65,"m":-0.7},{"p":"b","l":7,"e":3.2,"M":0.55,"m":-0.6},{"p":"b","l":7,"e":3.4,"M":0.6,"m":-0.5},{"p":"b","l":7,"e":3.6,"M":0.45,"m":-0.6},{"p":"b","l":7,"e":3.8,"M":0.55,"m":-0.45},{"p":"b","l":7,"e":4,"M":0.5,"m":-0.55},
      {"p":"b","l":7,"e":-2.6,"M":0,"m":0},{"p":"b","l":7,"e":-2.7,"M":0.2,"m":-0.2},{"p":"b","l":7,"e":-2.85,"M":0.45,"m":-0.4},{"p":"b","l":7,"e":-3,"M":0.3,"m":-0.25},{"p":"b","l":7,"e":-3.1,"M":0.6,"m":-0.5},{"p":"b","l":7,"e":-3.25,"M":0.55,"m":-0.65},{"p":"b","l":7,"e":-3.35,"M":1.3,"m":-1.55},{"p":"b","l":7,"e":-3.5,"M":1.45,"m":-1.45},{"p":"b","l":7,"e":-3.65,"M":1.35,"m":-1.6},{"p":"b","l":7,"e":-3.8,"M":1.5,"m":-1.4},{"p":"b","l":7,"e":-3.95,"M":1.35,"m":-1.55},{"p":"b","l":7,"e":-4,"M":1.45,"m":-1.5},
      {"p":"b","l":8,"e":0,"M":0,"m":0},{"p":"b","l":8,"e":0.3,"M":0.05,"m":-0.05},{"p":"b","l":8,"e":0.4,"M":0.35,"m":-0.3},{"p":"b","l":8,"e":0.6,"M":0.7,"m":-0.75},{"p":"b","l":8,"e":0.8,"M":0.8,"m":-1},{"p":"b","l":8,"e":1,"M":1.1,"m":-1.1},{"p":"b","l":8,"e":1.2,"M":1.35,"m":-1.35},{"p":"b","l":8,"e":1.4,"M":1.3,"m":-1.5},{"p":"b","l":8,"e":1.55,"M":1.8,"m":-1.8},{"p":"b","l":8,"e":1.65,"M":2,"m":-1.95},{"p":"b","l":8,"e":1.75,"M":2.45,"m":-2.45},{"p":"b","l":8,"e":1.9,"M":1.85,"m":-1.75},{"p":"b","l":8,"e":2.05,"M":1.5,"m":-1.5},{"p":"b","l":8,"e":2.25,"M":1.25,"m":-1.25},{"p":"b","l":8,"e":2.45,"M":1.05,"m":-1.05},{"p":"b","l":8,"e":2.65,"M":0.85,"m":-0.95},{"p":"b","l":8,"e":2.85,"M":0.7,"m":-0.8},{"p":"b","l":8,"e":3.05,"M":0.6,"m":-0.6},{"p":"b","l":8,"e":3.25,"M":0.65,"m":-0.55},{"p":"b","l":8,"e":3.45,"M":0.5,"m":-0.6},{"p":"b","l":8,"e":3.65,"M":0.55,"m":-0.5},{"p":"b","l":8,"e":3.85,"M":0.45,"m":-0.55},{"p":"b","l":8,"e":4,"M":0.5,"m":-0.5},
      {"p":"b","l":8,"e":-2.6,"M":0,"m":0},{"p":"b","l":8,"e":-2.7,"M":0.2,"m":-0.2},{"p":"b","l":8,"e":-2.85,"M":0.45,"m":-0.35},{"p":"b","l":8,"e":-3,"M":0.35,"m":-0.3},{"p":"b","l":8,"e":-3.15,"M":0.55,"m":-0.45},{"p":"b","l":8,"e":-3.25,"M":0.6,"m":-0.7},{"p":"b","l":8,"e":-3.35,"M":1.35,"m":-1.5},{"p":"b","l":8,"e":-3.5,"M":1.4,"m":-1.55},{"p":"b","l":8,"e":-3.65,"M":1.3,"m":-1.4},{"p":"b","l":8,"e":-3.8,"M":1.5,"m":-1.6},{"p":"b","l":8,"e":-3.95,"M":1.45,"m":-1.5},{"p":"b","l":8,"e":-4,"M":1.5,"m":-1.55},
      {"p":"b","l":9,"e":0,"M":0,"m":0},{"p":"b","l":9,"e":0.3,"M":0.05,"m":-0.05},{"p":"b","l":9,"e":0.4,"M":0.3,"m":-0.35},{"p":"b","l":9,"e":0.6,"M":0.65,"m":-0.7},{"p":"b","l":9,"e":0.8,"M":0.85,"m":-0.85},{"p":"b","l":9,"e":1,"M":1.1,"m":-1.05},{"p":"b","l":9,"e":1.2,"M":1.2,"m":-1.35},{"p":"b","l":9,"e":1.4,"M":1.55,"m":-1.45},{"p":"b","l":9,"e":1.55,"M":1.75,"m":-1.75},{"p":"b","l":9,"e":1.7,"M":2.2,"m":-2.45},{"p":"b","l":9,"e":1.8,"M":2.45,"m":-2.1},{"p":"b","l":9,"e":1.95,"M":1.8,"m":-1.6},{"p":"b","l":9,"e":2.1,"M":1.5,"m":-1.4},{"p":"b","l":9,"e":2.3,"M":1.3,"m":-1.25},{"p":"b","l":9,"e":2.5,"M":1.05,"m":-1.05},{"p":"b","l":9,"e":2.7,"M":0.85,"m":-0.9},{"p":"b","l":9,"e":2.9,"M":0.7,"m":-0.8},{"p":"b","l":9,"e":3.1,"M":0.6,"m":-0.7},{"p":"b","l":9,"e":3.3,"M":0.55,"m":-0.6},{"p":"b","l":9,"e":3.5,"M":0.45,"m":-0.65},{"p":"b","l":9,"e":3.7,"M":0.5,"m":-0.5},{"p":"b","l":9,"e":3.9,"M":0.4,"m":-0.55},{"p":"b","l":9,"e":4,"M":0.45,"m":-0.5},
      {"p":"b","l":9,"e":-2.6,"M":0,"m":0},{"p":"b","l":9,"e":-2.7,"M":0.25,"m":-0.2},{"p":"b","l":9,"e":-2.85,"M":0.4,"m":-0.4},{"p":"b","l":9,"e":-3,"M":0.3,"m":-0.3},{"p":"b","l":9,"e":-3.1,"M":0.55,"m":-0.45},{"p":"b","l":9,"e":-3.25,"M":0.6,"m":-0.7},{"p":"b","l":9,"e":-3.35,"M":1.3,"m":-1.5},{"p":"b","l":9,"e":-3.5,"M":1.45,"m":-1.6},{"p":"b","l":9,"e":-3.65,"M":1.3,"m":-1.45},{"p":"b","l":9,"e":-3.8,"M":1.5,"m":-1.55},{"p":"b","l":9,"e":-3.95,"M":1.4,"m":-1.4},{"p":"b","l":9,"e":-4,"M":1.45,"m":-1.5},
      {"p":"b","l":10,"e":0.23,"M":0,"m":0},{"p":"b","l":10,"e":0.4,"M":0.15,"m":-0.3},{"p":"b","l":10,"e":0.55,"M":0.3,"m":-0.45},{"p":"b","l":10,"e":0.7,"M":0.45,"m":-0.6},{"p":"b","l":10,"e":0.9,"M":0.8,"m":-0.95},{"p":"b","l":10,"e":1.05,"M":1,"m":-1.1},{"p":"b","l":10,"e":1.2,"M":1.2,"m":-1.25},{"p":"b","l":10,"e":1.4,"M":1.5,"m":-1.5},{"p":"b","l":10,"e":1.55,"M":1.45,"m":-1.75},{"p":"b","l":10,"e":1.7,"M":1.9,"m":-1.9},{"p":"b","l":10,"e":1.9,"M":2,"m":-2.35},{"p":"b","l":10,"e":2,"M":2.2,"m":-1.65},{"p":"b","l":10,"e":2.1,"M":2.45,"m":-2.2},{"p":"b","l":10,"e":2.2,"M":1.75,"m":-2.45},{"p":"b","l":10,"e":2.35,"M":1.95,"m":-1.8},{"p":"b","l":10,"e":2.5,"M":1.6,"m":-1.4},{"p":"b","l":10,"e":2.7,"M":1.35,"m":-1.2},{"p":"b","l":10,"e":2.9,"M":1.1,"m":-1.05},{"p":"b","l":10,"e":3.1,"M":0.95,"m":-0.95},{"p":"b","l":10,"e":3.3,"M":0.75,"m":-0.85},{"p":"b","l":10,"e":3.5,"M":0.65,"m":-0.7},{"p":"b","l":10,"e":3.7,"M":0.55,"m":-0.8},{"p":"b","l":10,"e":3.9,"M":0.6,"m":-0.7},{"p":"b","l":10,"e":4,"M":0.5,"m":-0.75},
      {"p":"b","l":10,"e":-2.35,"M":0,"m":0},{"p":"b","l":10,"e":-2.5,"M":0.25,"m":-0.25},{"p":"b","l":10,"e":-2.65,"M":0.35,"m":-0.3},{"p":"b","l":10,"e":-2.8,"M":0.45,"m":-0.45},{"p":"b","l":10,"e":-2.95,"M":0.75,"m":-1.2},{"p":"b","l":10,"e":-3.05,"M":0.7,"m":-1.6},{"p":"b","l":10,"e":-3.15,"M":1.1,"m":-1.7},{"p":"b","l":10,"e":-3.25,"M":1.4,"m":-1.45},{"p":"b","l":10,"e":-3.35,"M":1.65,"m":-1.85},{"p":"b","l":10,"e":-3.5,"M":1.7,"m":-1.4},{"p":"b","l":10,"e":-3.6,"M":1.75,"m":-1.9},{"p":"b","l":10,"e":-3.7,"M":1.65,"m":-1.5},{"p":"b","l":10,"e":-3.85,"M":1.6,"m":-1.7},{"p":"b","l":10,"e":-4,"M":1.45,"m":-1.6},
      {"p":"b","l":1,"t":"(b)"},{"p":"b","l":2,"c":0},{"p":"b","l":3,"c":0},{"p":"b","l":4,"c":0},{"p":"b","l":5,"c":0},{"p":"b","l":6,"c":0},{"p":"b","l":7,"c":0},{"p":"b","l":8,"c":0},{"p":"b","l":9,"c":0},{"p":"b","l":10,"c":0.23},
      {"p":"b","l":5,"h":"Right polarization"}
  ]},
  "facet": {
    "row": {"field": "p", "type": "nominal", "header": {"title": null, "labels": false}},
    "column": {"field": "l", "type": "ordinal", "header": {"title": null, "labels": false}}
  },
  "spacing": {"row": 39, "column": 0},
  "bounds": "flush",
  "title": {"text": "DOS of TiO₂ layers (states/eV)", "orient": "bottom", "anchor": "middle", "fontSize": 20, "fontWeight": "normal", "font": "Liberation Sans", "color": "black", "offset": 6, "dx": -7},
  "spec": {
    "width": 61, "height": 213,
    "layer": [
      {"transform": [{"filter": "isValid(datum.c) || isValid(datum.t)"}], "mark": {"type": "rule", "strokeDash": [1, 1], "color": "#333333", "strokeWidth": 1},
       "encoding": {"y": {"datum": 0}}},
      {"transform": [{"filter": "isValid(datum.e)"}, {"fold": ["M", "m"], "as": ["s", "d"]}],
       "mark": {"type": "line", "strokeWidth": 1.4},
       "encoding": {
         "x": {"field": "d", "type": "quantitative", "scale": {"domain": [-2.5, 2.5], "nice": false}, "axis": {"values": [-2, 0, 2], "labelExpr": "'' + datum.value", "title": null, "offset": -4, "tickSize": 4, "labelPadding": 3}},
         "y": {"field": "e", "type": "quantitative", "scale": {"domain": [-4, 4], "nice": false}, "axis": {"values": [-4, -3, -2, -1, 0, 1, 2, 3, 4], "labelExpr": "datum.value % 2 == 0 ? '' + datum.value : ''", "title": "E-E\u00a0\u00a0(eV)", "titleY": 119, "titleX": -25, "titleBaseline": "alphabetic", "offset": -4, "tickSize": 4, "labelPadding": 3}},
         "color": {"field": "s", "type": "nominal", "scale": {"domain": ["M", "m"], "range": ["#000000", "#ff0000"]},
           "legend": {"orient": "none", "legendX": 54, "legendY": 126, "title": null, "labelExpr": "datum.label == 'M' ? 'Majority' : 'Minority'", "symbolType": "M-2,0L2,0", "symbolSize": 400, "symbolStrokeWidth": 1.5, "symbolOffset": 10, "labelFontSize": 16, "labelFont": "Liberation Sans", "labelColor": "black", "strokeColor": "black", "fillColor": "white", "padding": 2, "rowPadding": 0, "labelOffset": 14}},
         "order": {"field": "e", "type": "quantitative"}
       }},
      {"transform": [{"filter": "isValid(datum.c)"}], "mark": {"type": "point", "shape": "circle", "filled": false, "color": "#0000ff", "size": 64, "strokeWidth": 1.5, "opacity": 1},
       "encoding": {"x": {"datum": 0}, "y": {"field": "c", "type": "quantitative"}}},
      {"transform": [{"filter": "isValid(datum.t)"}], "mark": {"type": "text", "align": "left", "baseline": "middle", "fontSize": 16, "color": "black"},
       "encoding": {"x": {"datum": -2.3}, "y": {"datum": -3.62}, "text": {"field": "t"}}},
      {"transform": [{"filter": "isValid(datum.t)"}], "mark": {"type": "text", "align": "center", "baseline": "middle", "fontSize": 11, "angle": 270, "color": "black"},
       "encoding": {"x": {"datum": -4.51}, "y": {"datum": -0.62}, "text": {"value": "F"}}},
      {"transform": [{"filter": "isValid(datum.h) && datum.p == 'a'"}], "mark": {"type": "rule", "color": "#ff0000", "strokeWidth": 3.5},
       "encoding": {"x": {"datum": -5.2}, "x2": {"datum": -0.94}, "y": {"datum": 4.38}}},
      {"transform": [{"filter": "isValid(datum.h) && datum.p == 'a'"}], "mark": {"type": "point", "shape": "M-1,0L1,-0.5L1,0.5Z", "filled": true, "color": "#ff0000", "opacity": 1, "size": 256},
       "encoding": {"x": {"datum": -5.61}, "y": {"datum": 4.38}}},
      {"transform": [{"filter": "isValid(datum.h) && datum.p == 'a'"}], "mark": {"type": "text", "align": "left", "baseline": "middle", "fontSize": 20, "color": "black"},
       "encoding": {"x": {"datum": -0.61}, "y": {"datum": 4.45}, "text": {"field": "h"}}},
      {"transform": [{"filter": "isValid(datum.h) && datum.p == 'b'"}], "mark": {"type": "rule", "color": "#ff0000", "strokeWidth": 3.5},
       "encoding": {"x": {"datum": -6.84}, "x2": {"datum": -2.58}, "y": {"datum": 4.53}}},
      {"transform": [{"filter": "isValid(datum.h) && datum.p == 'b'"}], "mark": {"type": "point", "shape": "M1,0L-1,-0.5L-1,0.5Z", "filled": true, "color": "#ff0000", "opacity": 1, "size": 256},
       "encoding": {"x": {"datum": -2.17}, "y": {"datum": 4.53}}},
      {"transform": [{"filter": "isValid(datum.h) && datum.p == 'b'"}], "mark": {"type": "text", "align": "left", "baseline": "middle", "fontSize": 20, "color": "black"},
       "encoding": {"x": {"datum": -1.27}, "y": {"datum": 4.53}, "text": {"field": "h"}}}
    ]
  }
}
